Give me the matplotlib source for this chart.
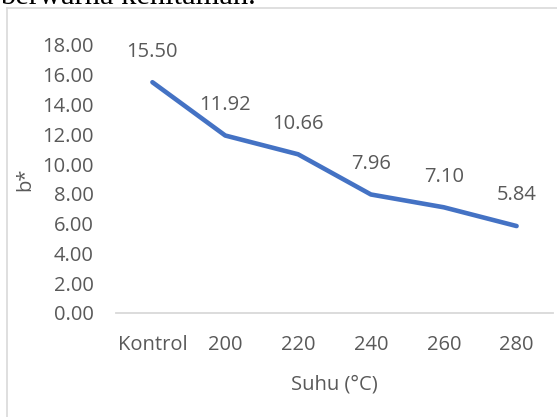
import matplotlib.pyplot as plt
from matplotlib.lines import Line2D

# data
categories = ['Kontrol', '200', '220', '240', '260', '280']
b_values = [15.50, 11.92, 10.66, 7.96, 7.10, 5.84]
y_ticks = [0, 2, 4, 6, 8, 10, 12, 14, 16, 18]

plt.rcParams['font.family'] = ['Open Sans', 'DejaVu Sans']
text_color = '#595959'
grid_color = '#D9D9D9'

fig = plt.figure(figsize=(5.57, 4.17), dpi=100)
ax = fig.add_axes([116 / 557, 1 - 313 / 417, (553 - 116) / 557, (313 - 45) / 417])

x = list(range(len(categories)))
ax.plot(x, b_values, color='#4472C4', linewidth=3.3, solid_capstyle='round',
        solid_joinstyle='round')

for xi, v in zip(x, b_values):
    ax.annotate(f'{v:.2f}', (xi, v), xytext=(0, 22), textcoords='offset points',
                ha='center', va='center', fontsize=14.5, color=text_color)

ax.set_xlim(-0.5, len(categories) - 0.5)
ax.set_ylim(0, 18)
ax.set_xticks(x)
ax.set_xticklabels(categories)
ax.set_yticks(y_ticks)
ax.set_yticklabels([f'{t:.2f}' for t in y_ticks])
ax.tick_params(length=0, labelsize=14.5, labelcolor=text_color)
ax.tick_params(axis='y', pad=16)
ax.tick_params(axis='x', pad=16)

for side in ['top', 'right', 'left']:
    ax.spines[side].set_visible(False)
ax.spines['bottom'].set_color(grid_color)
ax.spines['bottom'].set_linewidth(1.3)

ax.set_xlabel('Suhu (°C)', fontsize=14.5, color=text_color, labelpad=14)
ax.set_ylabel('b*', fontsize=14.5, color=text_color)
ax.yaxis.set_label_coords(-0.185, 0.5)

# outer chart frame (cut off at the right and bottom)
fig.add_artist(Line2D([7 / 557, 7 / 557], [0, 1 - 8 / 417], transform=fig.transFigure,
                      color=grid_color, linewidth=1.2))
fig.add_artist(Line2D([7 / 557, 1], [1 - 8 / 417, 1 - 8 / 417], transform=fig.transFigure,
                      color=grid_color, linewidth=1.2))

# bottom of the sentence above the chart, cropped
fig.text(0.0, 1 - 3.5 / 417, 'berwarna kehitaman.', fontsize=22, family='Liberation Serif',
         color='black', ha='left', va='baseline')

fig.savefig('out.png', dpi=100)
